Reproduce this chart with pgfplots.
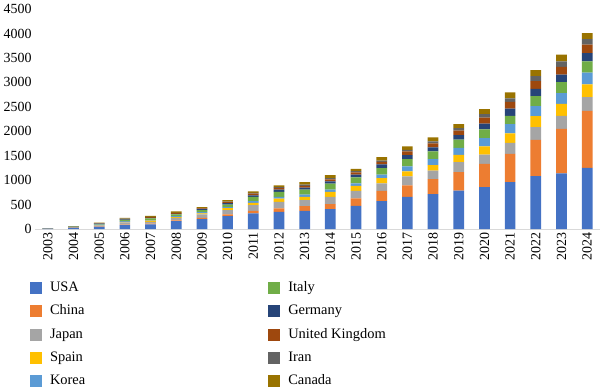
\documentclass[border=0pt]{standalone}
\usepackage{fontspec}
\setmainfont{Liberation Serif}
\usepackage{pgfplots}
\usepackage{pgfplotstable}
\pgfplotsset{compat=1.18}
\definecolor{cusa}{HTML}{4472C4}
\definecolor{cchina}{HTML}{ED7D31}
\definecolor{cjapan}{HTML}{A5A5A5}
\definecolor{cspain}{HTML}{FFC000}
\definecolor{ckorea}{HTML}{5B9BD5}
\definecolor{citaly}{HTML}{70AD47}
\definecolor{cgermany}{HTML}{264478}
\definecolor{cuk}{HTML}{9E480E}
\definecolor{ciran}{HTML}{636363}
\definecolor{ccanada}{HTML}{997300}
\definecolor{axisgray}{HTML}{D9D9D9}
\pgfplotstableread{
x USA China Japan Spain Korea Italy Germany UK Iran Canada
0 6 1 5 1 1 2 1 1 0 2
1 20 3 15 3 5 5 3 2 1 4
2 41 8 26 6 7 13 7 7 3 11
3 81 7 47 13 14 27 7 7 7 20
4 95 13 40 21 14 34 13 14 6 21
5 162 14 54 14 20 34 13 14 6 28
6 203 27 68 20 27 41 20 14 6 21
7 264 34 88 40 21 54 27 20 14 27
8 318 54 115 47 34 89 33 34 13 34
9 351 69 134 69 34 101 48 33 20 34
10 372 95 122 68 47 102 40 34 27 53
11 406 102 149 101 48 122 46 41 27 61
12 474 155 149 102 54 122 54 47 27 48
13 568 210 156 108 68 135 75 54 27 67
14 657 236 183 101 102 149 81 81 27 74
15 711 311 170 114 122 162 81 81 41 81
16 785 378 203 150 142 169 95 88 54 81
17 859 474 189 169 170 175 122 122 68 102
18 960 576 224 195 190 169 149 135 75 122
19 1082 739 264 223 203 209 148 157 101 122
20 1137 913 264 244 223 223 156 155 116 136
21 1252 1164 284 258 243 230 169 170 114 121
}\data
\begin{document}
\begin{tikzpicture}
\useasboundingbox (-35bp,-163bp) rectangle (565bp,229bp);
\begin{axis}[
  at={(0,0)}, anchor=south west,
  scale only axis, width=565bp, height=220bp,
  ybar stacked, bar width=10.7bp,
  xmin=-0.5, xmax=21.5, ymin=0, ymax=4500,
  ytick={0,500,...,4500},
  xtick={0,...,21},
  xticklabels={2003,2004,2005,2006,2007,2008,2009,2010,2011,2012,2013,2014,2015,2016,2017,2018,2019,2020,2021,2022,2023,2024},
  scaled y ticks=false,
  /pgf/number format/1000 sep={},
  /pgf/number format/assume math mode=true,
  tick label style={font=\fontsize{14}{16}\selectfont},
  xticklabel style={rotate=90, anchor=east},
  major tick length=0pt,
  axis lines*=left,
  x axis line style={draw=axisgray, line width=0.8bp},
  y axis line style={draw=none},
  legend columns=2,
  legend cell align=left,
  legend style={
    at={(-0.00885,-0.2386)}, anchor=north west,
    draw=none, fill=none, inner sep=0pt, outer sep=0pt,
    font=\fontsize{14.5}{16}\selectfont,
    row sep=10.3bp,
    nodes={inner sep=0pt, text height=10bp, text depth=3bp},
    /tikz/every odd column/.append style={column sep=8bp},
    /tikz/every even column/.append style={column sep=183bp},
  },
]
\addplot[fill=cusa, draw=none, forget plot] table[x=x,y=USA]{\data};
\addplot[fill=cchina, draw=none, forget plot] table[x=x,y=China]{\data};
\addplot[fill=cjapan, draw=none, forget plot] table[x=x,y=Japan]{\data};
\addplot[fill=cspain, draw=none, forget plot] table[x=x,y=Spain]{\data};
\addplot[fill=ckorea, draw=none, forget plot] table[x=x,y=Korea]{\data};
\addplot[fill=citaly, draw=none, forget plot] table[x=x,y=Italy]{\data};
\addplot[fill=cgermany, draw=none, forget plot] table[x=x,y=Germany]{\data};
\addplot[fill=cuk, draw=none, forget plot] table[x=x,y=UK]{\data};
\addplot[fill=ciran, draw=none, forget plot] table[x=x,y=Iran]{\data};
\addplot[fill=ccanada, draw=none, forget plot] table[x=x,y=Canada]{\data};
\addlegendimage{fill=cusa, draw=none, legend image code/.code={\fill[cusa] (0bp,-6bp) rectangle (12bp,6bp);}}
\addlegendentry{USA}
\addlegendimage{fill=citaly, draw=none, legend image code/.code={\fill[citaly] (0bp,-6bp) rectangle (12bp,6bp);}}
\addlegendentry{Italy}
\addlegendimage{fill=cchina, draw=none, legend image code/.code={\fill[cchina] (0bp,-6bp) rectangle (12bp,6bp);}}
\addlegendentry{China}
\addlegendimage{fill=cgermany, draw=none, legend image code/.code={\fill[cgermany] (0bp,-6bp) rectangle (12bp,6bp);}}
\addlegendentry{Germany}
\addlegendimage{fill=cjapan, draw=none, legend image code/.code={\fill[cjapan] (0bp,-6bp) rectangle (12bp,6bp);}}
\addlegendentry{Japan}
\addlegendimage{fill=cuk, draw=none, legend image code/.code={\fill[cuk] (0bp,-6bp) rectangle (12bp,6bp);}}
\addlegendentry{United Kingdom}
\addlegendimage{fill=cspain, draw=none, legend image code/.code={\fill[cspain] (0bp,-6bp) rectangle (12bp,6bp);}}
\addlegendentry{Spain}
\addlegendimage{fill=ciran, draw=none, legend image code/.code={\fill[ciran] (0bp,-6bp) rectangle (12bp,6bp);}}
\addlegendentry{Iran}
\addlegendimage{fill=ckorea, draw=none, legend image code/.code={\fill[ckorea] (0bp,-6bp) rectangle (12bp,6bp);}}
\addlegendentry{Korea}
\addlegendimage{fill=ccanada, draw=none, legend image code/.code={\fill[ccanada] (0bp,-6bp) rectangle (12bp,6bp);}}
\addlegendentry{Canada}
\end{axis}
\end{tikzpicture}
\end{document}
